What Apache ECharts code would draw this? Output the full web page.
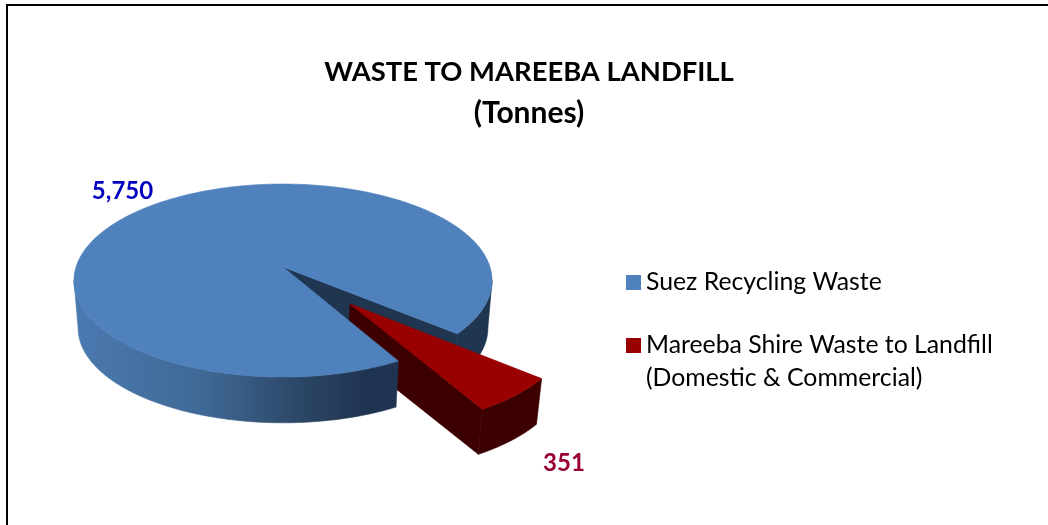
<!DOCTYPE html>
<html><head><meta charset="utf-8">
<style>html,body{margin:0;padding:0;background:#fff}#c{width:1048px;height:525px}</style>
<script src="https://cdn.jsdelivr.net/npm/echarts@6/dist/echarts.min.js"></script>
</head><body><div id="c"></div>
<script>
const titleLines = ['WASTE TO MAREEBA LANDFILL', '(Tonnes)'];
const seriesNames = ['Suez Recycling Waste', 'Mareeba Shire Waste to Landfill\n(Domestic & Commercial)'];
const suezValues = [5750];
const mareebaValues = [351];

const FONT = 'Lato, Carlito, Calibri, sans-serif';
const total = suezValues[0] + mareebaValues[0];
const view = {cx: 283, cy: 267, a: 207, b: 94.6, k: 0.14, depth: 48, shrink: 0.98};
const gapStart = 40, explode = 0.48, tangentRight = 8, tangentLeft = 172;
const rad = d => d * Math.PI / 180;

// Projects a point on the disc (unit circle plane) in perspective.
function proj(u, v, lower) {
  const w = 1 - view.k * v, s = lower ? view.shrink : 1;
  return [view.cx + s * view.a * u / w, view.cy + (lower ? view.depth : 0) + s * view.b * v / w];
}
function rim(from, to, lower, off) {
  const pts = [], n = Math.max(2, Math.ceil(Math.abs(to - from)));
  for (let i = 0; i <= n; i++) {
    const t = rad(from + (to - from) * i / n);
    pts.push(proj(off[0] + Math.cos(t), off[1] + Math.sin(t), lower));
  }
  return pts;
}
const poly = (points, fill, z2, stroke) => ({type: 'polygon', z2, shape: {points}, silent: true,
  style: {fill, stroke: stroke || fill, lineWidth: 0.6, lineJoin: 'round'}});
const wall = (from, to, off, fill, z2) => poly(rim(from, to, false, off).concat(rim(from, to, true, off).reverse()), fill, z2);
const edgeWall = (ang, off, fill, z2) => {
  const t = rad(ang), c = [off[0] + Math.cos(t), off[1] + Math.sin(t)];
  return poly([proj(off[0], off[1], false), proj(c[0], c[1], false), proj(c[0], c[1], true), proj(off[0], off[1], true)], fill, z2);
};
const frontGrad = new echarts.graphic.LinearGradient(80, 0, 397, 0, [
  {offset: 0, color: '#4a79b0'}, {offset: 0.4, color: '#3f6894'},
  {offset: 0.72, color: '#2a4463'}, {offset: 0.9, color: '#1f3450'}, {offset: 1, color: '#1f3450'}
], true);

function renderSuez(params, api) {
  const val = api.value(0), sweep = 360 * val / total;
  const start = gapStart + 360 * mareebaValues[0] / total, end = start + sweep;
  const o = [0, 0];
  return {type: 'group', children: [
    wall(360 + tangentRight, end, o, '#1f3550', 1),
    edgeWall(gapStart, o, '#1f3550', 2),
    wall(start, tangentLeft, o, frontGrad, 8),
    poly([proj(0, 0, false)].concat(rim(start, end, false, o)), '#4f81bd', 9),
    {type: 'text', z2: 10, silent: true, style: {text: echarts.format.addCommas(val), x: 122.5, y: 191,
      align: 'center', verticalAlign: 'middle', fill: '#0000c0', font: 'bold 24px ' + FONT}}
  ]};
}
function renderMareeba(params, api) {
  const val = api.value(0), sweep = 360 * val / total;
  const end = gapStart + sweep, mid = rad(gapStart + sweep / 2);
  const o = [explode * Math.cos(mid), explode * Math.sin(mid)];
  return {type: 'group', children: [
    edgeWall(end, o, '#3d0000', 3),
    wall(gapStart, end, o, '#3d0000', 4),
    poly([proj(o[0], o[1], false)].concat(rim(gapStart, end, false, o)), '#990000', 5),
    {type: 'text', z2: 10, silent: true, style: {text: echarts.format.addCommas(val), x: 564, y: 463,
      align: 'center', verticalAlign: 'middle', fill: '#990033', font: 'bold 24px ' + FONT}}
  ]};
}

const chart = echarts.init(document.getElementById('c'), null, {renderer: 'canvas'});
chart.setOption({
  backgroundColor: '#fff',
  animation: false,
  title: {text: '{a|' + titleLines[0] + '}\n{b|' + titleLines[1] + '}', left: 524, top: 47, textAlign: 'center',
    textStyle: {rich: {
      a: {fontFamily: FONT, fontWeight: 'bold', fontSize: 27.4, lineHeight: 41, color: '#000'},
      b: {fontFamily: FONT, fontWeight: 'bold', fontSize: 30, lineHeight: 41, color: '#000'}
    }}},
  legend: {
    orient: 'vertical', left: 621, top: 261, itemWidth: 15, itemHeight: 15, itemGap: -3,
    icon: 'rect', selectedMode: false, align: 'left',
    // a blank leading line keeps the swatch level with the first line of a two-line name
    formatter: name => name.indexOf('\n') >= 0 ? '\u00a0\n' + name : name,
    textStyle: {fontFamily: FONT, fontSize: 24.8, lineHeight: 33, color: '#000'},
    data: seriesNames.map(name => ({name}))
  },
  graphic: [{type: 'polyline', silent: true, shape: {points: [[7, 525], [7, 5], [1048, 5]]},
    style: {stroke: '#000', lineWidth: 2, fill: null}}],
  series: [
    {type: 'custom', name: seriesNames[0], coordinateSystem: 'none', data: suezValues.map(v => [v]),
      itemStyle: {color: '#4f81bd'}, renderItem: renderSuez},
    {type: 'custom', name: seriesNames[1], coordinateSystem: 'none', data: mareebaValues.map(v => [v]),
      itemStyle: {color: '#990000'}, renderItem: renderMareeba}
  ]
});
</script></body></html>
